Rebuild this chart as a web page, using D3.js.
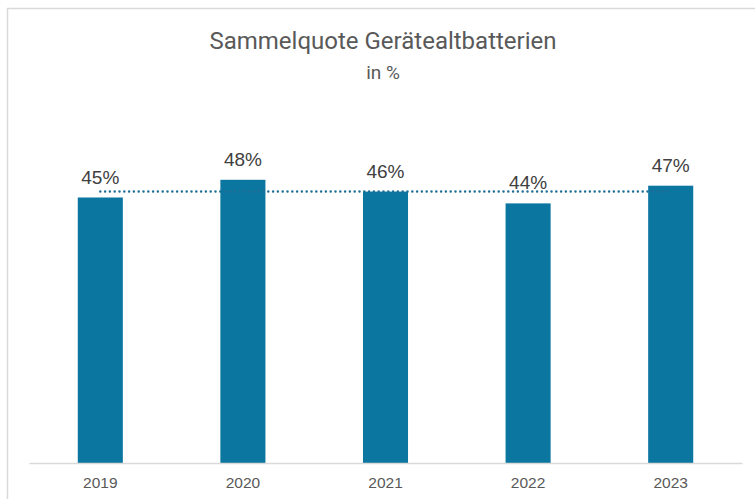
<!DOCTYPE html>
<html><head><meta charset="utf-8">
<script src="https://cdn.jsdelivr.net/npm/d3@7"></script>
<style>body{margin:0;background:#fff}svg{display:block}</style>
</head><body>
<svg id="c" width="755" height="499"></svg>
<script>
const years = ["2019","2020","2021","2022","2023"];
const values = [45,48,46,44,47];
const average = [46];
const svg = d3.select("#c");
// frame
svg.append("rect").attr("x",7.5).attr("y",8.5).attr("width",760).attr("height",500)
  .attr("fill","#fff").attr("stroke","#d9d9d9").attr("stroke-width",1.5);
const x = d3.scaleBand().domain(years).range([29,742]).paddingInner(0.684).paddingOuter(0.342);
const y = d3.scaleLinear().domain([0,60]).range([463,109]);
svg.append("text").attr("x",383).attr("y",49).attr("text-anchor","middle")
  .attr("font-family","Roboto, sans-serif").attr("font-size",24)
  .attr("fill","#595959").text("Sammelquote Gerätealtbatterien");
svg.append("text").attr("x",383).attr("y",79).attr("text-anchor","middle")
  .attr("font-family","Roboto, sans-serif").attr("font-size",19)
  .attr("fill","#595959").text("in %");
svg.selectAll(".bar").data(values).join("rect").attr("class","bar")
  .attr("x",(d,i)=>x(years[i])).attr("width",x.bandwidth())
  .attr("y",d=>y(d)).attr("height",d=>y(0)-y(d)).attr("fill","#0B76A0");
// axis
const ax = svg.append("g").attr("transform","translate(0,463)").call(d3.axisBottom(x).tickSize(0).tickPadding(14));
ax.select(".domain").attr("stroke","#d9d9d9").attr("stroke-width",1.5);
ax.selectAll("text").attr("font-family","'Liberation Sans', Arial, sans-serif").attr("font-size",15.5).attr("fill","#595959");
// average dotted line
svg.append("line").attr("x1",x(years[0])+x.bandwidth()/2).attr("x2",x(years[4])+x.bandwidth()/2)
  .attr("y1",y(average[0])).attr("y2",y(average[0]))
  .attr("stroke","#1f6e96").attr("stroke-width",2.5).attr("stroke-dasharray","0 4.8").attr("stroke-linecap","round");
svg.selectAll(".lbl").data(values).join("text").attr("class","lbl")
  .attr("x",(d,i)=>x(years[i])+x.bandwidth()/2).attr("y",d=>y(d)-14)
  .attr("text-anchor","middle").attr("font-family","'Liberation Sans', Arial, sans-serif")
  .attr("font-size",19).attr("fill","#404040").text(d=>d+"%");
</script>
</body></html>
